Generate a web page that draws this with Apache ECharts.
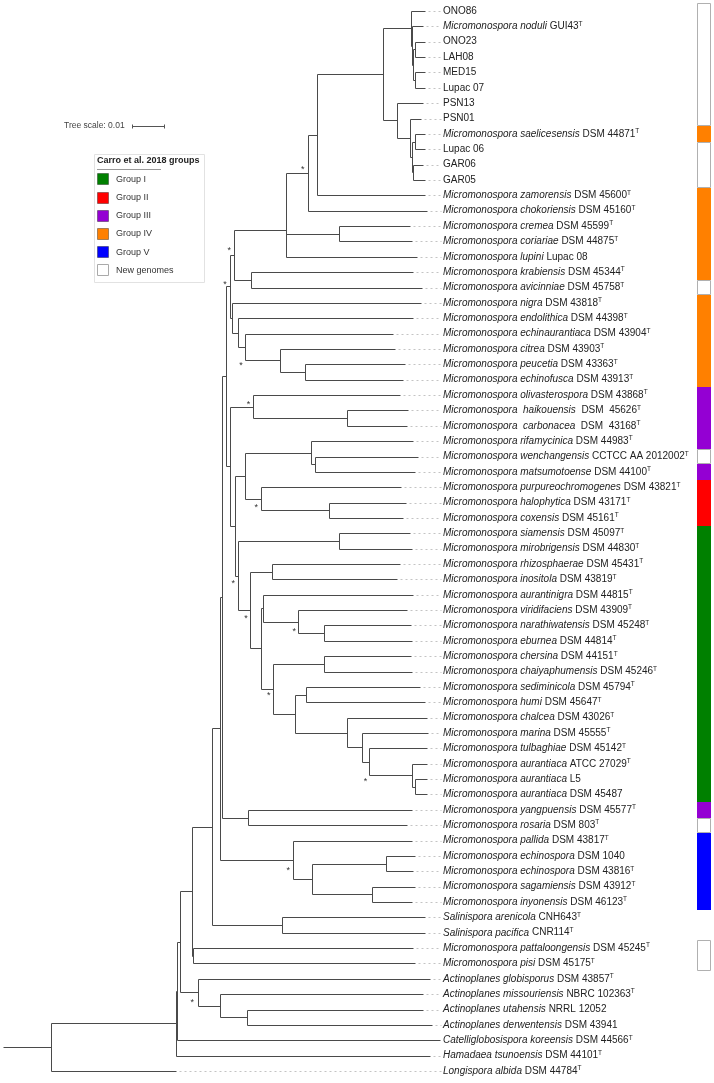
<!DOCTYPE html>
<html><head><meta charset="utf-8">
<script src="https://cdn.jsdelivr.net/npm/echarts@6/dist/echarts.min.js"></script>
<style>html,body{margin:0;padding:0;background:#fff}#c{width:714px;height:1083px}</style>
</head><body><div id="c"></div>
<script>
// ---------- DATA ----------
const leafTaxon = [
 '', 'Micromonospora noduli', '', '', '', '', '', '', 'Micromonospora saelicesensis', '', '', '',
 'Micromonospora zamorensis', 'Micromonospora chokoriensis', 'Micromonospora cremea', 'Micromonospora coriariae',
 'Micromonospora lupini', 'Micromonospora krabiensis', 'Micromonospora avicinniae', 'Micromonospora nigra',
 'Micromonospora endolithica', 'Micromonospora echinaurantiaca', 'Micromonospora citrea', 'Micromonospora peucetia',
 'Micromonospora echinofusca', 'Micromonospora olivasterospora', 'Micromonospora  haikouensis', 'Micromonospora  carbonacea',
 'Micromonospora rifamycinica', 'Micromonospora wenchangensis', 'Micromonospora matsumotoense', 'Micromonospora purpureochromogenes',
 'Micromonospora halophytica', 'Micromonospora coxensis', 'Micromonospora siamensis', 'Micromonospora mirobrigensis',
 'Micromonospora rhizosphaerae', 'Micromonospora inositola', 'Micromonospora aurantinigra', 'Micromonospora viridifaciens',
 'Micromonospora narathiwatensis', 'Micromonospora eburnea', 'Micromonospora chersina', 'Micromonospora chaiyaphumensis',
 'Micromonospora sediminicola', 'Micromonospora humi', 'Micromonospora chalcea', 'Micromonospora marina',
 'Micromonospora tulbaghiae', 'Micromonospora aurantiaca', 'Micromonospora aurantiaca', 'Micromonospora aurantiaca',
 'Micromonospora yangpuensis', 'Micromonospora rosaria', 'Micromonospora pallida', 'Micromonospora echinospora',
 'Micromonospora echinospora', 'Micromonospora sagamiensis', 'Micromonospora inyonensis', 'Salinispora arenicola',
 'Salinispora pacifica', 'Micromonospora pattaloongensis', 'Micromonospora pisi', 'Actinoplanes globisporus',
 'Actinoplanes missouriensis', 'Actinoplanes utahensis', 'Actinoplanes derwentensis', 'Catelliglobosispora koreensis',
 'Hamadaea tsunoensis', 'Longispora albida'
];
const leafStrain = [
 'ONO86', 'GUI43', 'ONO23', 'LAH08', 'MED15', 'Lupac 07', 'PSN13', 'PSN01', 'DSM 44871', 'Lupac 06', 'GAR06', 'GAR05',
 'DSM 45600', 'DSM 45160', 'DSM 45599', 'DSM 44875', 'Lupac 08', 'DSM 45344', 'DSM 45758', 'DSM 43818',
 'DSM 44398', 'DSM 43904', 'DSM 43903', 'DSM 43363', 'DSM 43913', 'DSM 43868', ' DSM  45626', ' DSM  43168',
 'DSM 44983', 'CCTCC AA 2012002', 'DSM 44100', 'DSM 43821', 'DSM 43171', 'DSM 45161', 'DSM 45097', 'DSM 44830',
 'DSM 45431', 'DSM 43819', 'DSM 44815', 'DSM 43909', 'DSM 45248', 'DSM 44814', 'DSM 44151', 'DSM 45246',
 'DSM 45794', 'DSM 45647', 'DSM 43026', 'DSM 45555', 'DSM 45142', 'ATCC 27029', 'L5', 'DSM 45487',
 'DSM 45577', 'DSM 803', 'DSM 43817', 'DSM 1040', 'DSM 43816', 'DSM 43912', 'DSM 46123', 'CNH643',
 'CNR114', 'DSM 45245', 'DSM 45175', 'DSM 43857', 'NBRC 102363', 'NRRL 12052', 'DSM 43941', 'DSM 44566',
 'DSM 44101', 'DSM 44784'
];
const leafTypeStrain = [
 0,1,0,0,0,0,0,0,1,0,0,0, 1,1,1,1,0,1,1,1, 1,1,1,1,1,1,1,1, 1,1,1,1,1,1,1,1,
 1,1,1,1,1,1,1,1, 1,1,1,1,1,1,0,0, 1,1,1,0,1,1,1,1, 1,1,1,1,1,0,0,1, 1,1
];
// tip distance from root (substitutions per site)
const leafDepth = [
 0.1319,0.1313,0.1319,0.1319,0.1319,0.1319,0.1313,0.1305,0.1319,0.1319,0.1313,0.1319,
 0.1319,0.1324,0.1272,0.1279,0.1295,0.1282,0.1308,0.1305,0.1282,0.1220,0.1225,0.1256,
 0.1249,0.1241,0.1267,0.1262,0.1282,0.1298,0.1288,0.1243,0.1259,0.1249,0.1272,0.1277,
 0.1241,0.1230,0.1280,0.1262,0.1275,0.1277,0.1274,0.1277,0.1303,0.1319,0.1324,0.1329,
 0.1324,0.1324,0.1324,0.1324,0.1277,0.1262,0.1277,0.1288,0.1282,0.1288,0.1277,0.1319,
 0.1319,0.1282,0.1288,0.1334,0.1312,0.1313,0.1340,0.1366,0.1334,0.0541
];
// Carro et al. 2018 group of each leaf ('' = none, 'N' = new genome)
const leafGroup = [
 'N','N','N','N','N','N','N','N','IV','N','N','N',
 'IV','IV','IV','IV','IV','IV','N','IV','IV','IV','IV','IV','IV',
 'III','III','III','III','N','III','II','II','II',
 'I','I','I','I','I','I','I','I','I','I','I','I','I','I','I','I','I','I',
 'III','N','V','V','V','V','V','','','N','N','','','','','','',''
];
// internal nodes: children (number = leaf row, string = node) and depth
const nodeNames = [
 'O1','O2','O4','O5','TOP6','SL','GAR','FOUR','P01','BOT6','TOP12','TOP13','B','C','BC','A','KA','D',
 'PE','CI','EC','EN','NI','E','HC','OL','WM','RI','HX','PU','I','SM','RH','NE','VI','AU','CC','P',
 'LD','T','S','R','Q','O','N','L','K','U','J','G','F','V','H','EE','SI','Y','X','W','SA','Z','PP','AA',
 'AE','AD','AC','AB','IN','AF','ROOT'
];
const nodeChildren = [
 [2,3],[4,5],['O1','O2'],[1,'O2'==='x'?0:'O4'],[0,'O5'],[8,9],[10,11],['SL','GAR'],[7,'FOUR'],[6,'P01'],
 ['TOP6','BOT6'],['TOP12',12],['TOP13',13],[14,15],['B','C'],['BC',16],[17,18],['A','KA'],
 [23,24],[22,'PE'],[21,'CI'],[20,'EC'],[19,'EN'],['D','NI'],[26,27],[25,'HC'],[29,30],[28,'WM'],
 [32,33],[31,'HX'],['RI','PU'],[34,35],[36,37],[40,41],[39,'NE'],[38,'VI'],[42,43],[44,45],
 [50,51],[49,'LD'],[48,'T'],[47,'S'],[46,'R'],['P','Q'],['CC','O'],['AU','N'],['RH','L'],['SM','K'],
 ['I','U'],['OL','J'],['E','G'],[52,53],['F','V'],[55,56],[57,58],['EE','SI'],[54,'Y'],['H','X'],
 [59,60],['W','SA'],[61,62],['Z','PP'],[65,66],[64,'AE'],[63,'AD'],['AA','AC'],['AB',67],['IN',68],['AF',69]
];
const nodeDepth = [
 0.1287,0.1287,0.1282,0.1278,0.1276,0.1287,0.1282,0.1279,0.1272,0.1232,0.1188,0.0980,0.0952,0.1051,0.0885,0.0883,0.0774,0.0723,
 0.0945,0.0866,0.0756,0.0733,0.0717,0.0709,0.1076,0.0780,0.0975,0.0962,0.1019,0.0807,0.0756,0.1051,0.0841,0.1004,0.0923,0.0813,0.1004,0.0947,
 0.1287,0.1279,0.1145,0.1121,0.1076,0.0913,0.0843,0.0807,0.0772,0.0735,0.0725,0.0709,0.0696,0.0767,0.0685,0.1196,0.1154,0.0965,0.0907,0.0678,0.0873,0.0654,0.0593,0.0592,
 0.0763,0.0678,0.0610,0.0553,0.0544,0.0541,0.0149
];
// nodes with strong support (*)
const starNodes = ['B','D','E','EC','OL','PU','U','K','VI','N','S','X','AC'];
const groupCodes = ['I','II','III','IV','V','N'];
const groupNames = ['Group I','Group II','Group III','Group IV','Group V','New genomes'];
const groupColors = ['#008000','#ff0000','#9400d3','#ff8000','#0000ff','#ffffff'];
const scaleBarLength = 0.01;

// ---------- LAYOUT / STYLE ----------
const LINE = '#4a4a4a';
const FONT = 'Liberation Sans, Arial, sans-serif';
const STRIP_X = 697, STRIP_W = 14;
const starOffset = {B:[-5,-5],D:[-5,-6],E:[-5,-4],EC:[-4,16],OL:[-4,-4],PU:[-5,7],U:[-5,6],K:[-4,6],
  VI:[-4,8],N:[-4,5],S:[-4,18],X:[-5,9],AC:[-6,8]};

const nodeIndex = {}; nodeNames.forEach((n, i) => nodeIndex[n] = i);
const nodeY = [];
function childY(c) { return typeof c === 'number' ? c : getNodeY(nodeIndex[c]); }
function childDepth(c) { return typeof c === 'number' ? leafDepth[c] : nodeDepth[nodeIndex[c]]; }
function getNodeY(i) {
  if (nodeY[i] === undefined) { const ch = nodeChildren[i]; nodeY[i] = (childY(ch[0]) + childY(ch[ch.length - 1])) / 2; }
  return nodeY[i];
}
nodeNames.forEach((n, i) => getNodeY(i));
const px = v => Math.round(v) + 0.5;
function seg(a, b, stroke, dash) {
  return {type: 'line', shape: {x1: px(a[0]), y1: px(a[1]), x2: px(b[0]), y2: px(b[1])},
    style: {stroke: stroke || LINE, lineWidth: 1, lineDash: dash || null}, silent: true};
}

const chart = echarts.init(document.getElementById('c'));
const XMAX = 0.1375;

// strip runs
const runs = [];
leafGroup.forEach((g, i) => {
  if (!g) return;
  const last = runs[runs.length - 1];
  if (last && last.g === g && last.end === i - 1) last.end = i; else runs.push({g, start: i, end: i});
});

const option = {
  animation: false,
  grid: {left: 3, top: 11, width: 440, height: 1060},
  xAxis: {type: 'value', min: 0, max: XMAX, show: false},
  yAxis: {type: 'value', min: 0, max: leafDepth.length - 1, inverse: true, show: false},
  series: [
    { // branches
      type: 'custom', coordinateSystem: 'cartesian2d', clip: false,
      data: nodeNames.map((n, i) => [nodeDepth[i], nodeY[i]]),
      renderItem(params, api) {
        const i = params.dataIndex, d = nodeDepth[i], ch = nodeChildren[i];
        const kids = [seg(api.coord([d, childY(ch[0])]), api.coord([d, childY(ch[ch.length - 1])]))];
        ch.forEach(c => kids.push(seg(api.coord([d, childY(c)]), api.coord([childDepth(c), childY(c)]))));
        if (nodeNames[i] === 'ROOT') kids.push(seg(api.coord([0, nodeY[i]]), api.coord([d, nodeY[i]])));
        return {type: 'group', children: kids};
      }
    },
    { // leaves: dashed guides + labels
      type: 'custom', coordinateSystem: 'cartesian2d', clip: false,
      data: leafDepth.map((d, i) => [d, i]),
      renderItem(params, api) {
        const i = params.dataIndex;
        const tip = api.coord([leafDepth[i], i]);
        const lx = api.coord([XMAX, i])[0];
        const kids = [];
        if (lx - tip[0] > 4) kids.push(seg([tip[0] + 3, tip[1]], [lx - 2, tip[1]], '#c4c4c4', [2, 3]));
        let txt = leafTaxon[i] ? '{i|' + leafTaxon[i] + '} ' + leafStrain[i] : leafStrain[i];
        if (leafTypeStrain[i]) txt += '{t|T}';
        kids.push({type: 'text', silent: true, style: {
          x: lx, y: tip[1], text: txt, fill: '#222', font: '10px ' + FONT, verticalAlign: 'middle', align: 'left',
          rich: {i: {fontStyle: 'italic', fontSize: 10, fontFamily: FONT, fill: '#222', lineHeight: 12},
                 t: {fontSize: 6.5, fontFamily: FONT, fill: '#222', verticalAlign: 'top', lineHeight: 7}}
        }});
        return {type: 'group', children: kids};
      }
    },
    { // group strip
      type: 'custom', coordinateSystem: 'cartesian2d', clip: false,
      data: runs.map(r => [XMAX, r.start]),
      renderItem(params, api) {
        const r = runs[params.dataIndex];
        const y0 = api.coord([XMAX, r.start - 0.5])[1], y1 = api.coord([XMAX, r.end + 0.5])[1];
        const col = groupColors[groupCodes.indexOf(r.g)];
        const white = r.g === 'N';
        return {type: 'rect', silent: true,
          shape: {x: STRIP_X + (white ? 0.5 : 0), y: Math.round(y0) + (white ? 0.5 : 0), width: STRIP_W - (white ? 1 : 0), height: Math.round(y1) - Math.round(y0) - (white ? 1 : 0)},
          style: {fill: col, stroke: white ? '#b0b0b0' : null, lineWidth: 1}};
      }
    },
    { // support stars
      type: 'custom', coordinateSystem: 'cartesian2d', clip: false,
      data: starNodes.map(n => [nodeDepth[nodeIndex[n]], nodeY[nodeIndex[n]]]),
      renderItem(params, api) {
        const n = starNodes[params.dataIndex];
        const p = api.coord([nodeDepth[nodeIndex[n]], nodeY[nodeIndex[n]]]);
        const o = starOffset[n] || [-5, 6];
        return {type: 'text', silent: true, style: {x: p[0] + o[0], y: p[1] + o[1] + 2, text: '*', fill: '#333',
          font: '9px ' + FONT, align: 'center', verticalAlign: 'middle'}};
      }
    },
    { // tree scale bar
      type: 'custom', coordinateSystem: 'cartesian2d', clip: false,
      data: [[0, 0]],
      renderItem(params, api) {
        const len = api.coord([scaleBarLength, 0])[0] - api.coord([0, 0])[0];
        const x0 = 132, y = 126;
        return {type: 'group', children: [
          {type: 'text', silent: true, style: {x: 64, y: y, text: 'Tree scale: ' + scaleBarLength, fill: '#444',
            font: '8.5px ' + FONT, verticalAlign: 'middle'}},
          seg([x0, y], [x0 + len, y], '#555'),
          seg([x0, y - 2], [x0, y + 2], '#555'),
          seg([x0 + len, y - 2], [x0 + len, y + 2], '#555')
        ]};
      }
    }
  ],
  graphic: [
    {type: 'rect', silent: true, shape: {x: 94.5, y: 154.5, width: 110, height: 128}, style: {fill: '#fff', stroke: '#e2e2e2', lineWidth: 1}},
    {type: 'text', silent: true, style: {x: 97, y: 161, text: 'Carro et al. 2018 groups', fill: '#222', font: 'bold 9px ' + FONT, verticalAlign: 'middle'}},
    {type: 'line', silent: true, shape: {x1: 97, y1: 169.5, x2: 161, y2: 169.5}, style: {stroke: '#999', lineWidth: 1}},
  ].concat(...groupNames.map((g, k) => {
    const cy = 179.3 + k * 18.2;
    return [
      {type: 'rect', silent: true, shape: {x: 97.5, y: Math.round(cy - 6) + 0.5, width: 11, height: 11},
        style: {fill: groupColors[k], stroke: k === 5 ? '#aaa' : 'rgba(0,0,0,0.35)', lineWidth: 1}},
      {type: 'text', silent: true, style: {x: 116, y: cy, text: g, fill: '#333', font: '9px ' + FONT, verticalAlign: 'middle'}}
    ];
  }))
};
chart.setOption(option);
</script></body></html>
